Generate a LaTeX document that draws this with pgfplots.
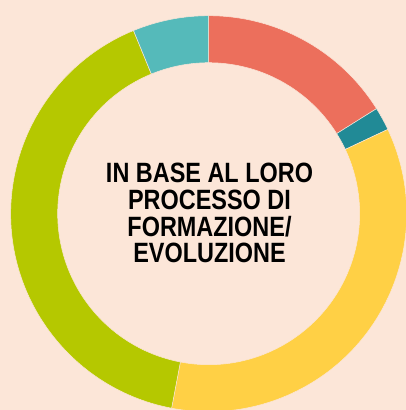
\documentclass[border=0pt]{standalone}
\usepackage{pgfplots}
\pgfplotsset{compat=1.18}
\usepackage{pgfplotstable}
\usepackage{fontspec}
\setmainfont{Liberation Sans}
\definecolor{bg}{HTML}{FCE6D8}
\definecolor{cRed}{HTML}{EC6F5C}
\definecolor{cDTeal}{HTML}{218A96}
\definecolor{cYellow}{HTML}{FFD045}
\definecolor{cGreen}{HTML}{B5C800}
\definecolor{cLTeal}{HTML}{55BABA}
\pgfplotstableread{
label value color
A 16.1 cRed
B 1.9 cDTeal
C 35.0 cYellow
D 40.8 cGreen
E 6.2 cLTeal
}\data
\begin{document}
\begin{tikzpicture}
\def\cum{0}
\pgfplotsforeachungrouped \i in {0,...,4}{%
  \pgfplotstablegetelem{\i}{value}\of{\data}\let\v\pgfplotsretval
  \pgfplotstablegetelem{\i}{color}\of{\data}\let\c\pgfplotsretval
  \pgfmathsetmacro{\s}{90-3.6*\cum}%
  \pgfmathsetmacro{\cum}{\cum+\v}%
  \pgfmathsetmacro{\e}{90-3.6*\cum}%
  \expandafter\xdef\csname segS\i\endcsname{\s}%
  \expandafter\xdef\csname segE\i\endcsname{\e}%
  \expandafter\xdef\csname segC\i\endcsname{\c}%
}
\begin{axis}[
  hide axis,
  x=1pt, y=1pt,
  xmin=-208.7, xmax=197.3,
  ymin=-196.3, ymax=213.7,
  clip=true,
]
\fill[bg] (rel axis cs:0,0) rectangle (rel axis cs:1,1);
\pgfplotsinvokeforeach{0,...,4}{%
  \edef\seg{\noexpand\fill[fill=\csname segC#1\endcsname, draw=bg, line width=0.5pt]
    (axis cs:0,0) ++(\csname segS#1\endcsname:198pt)
    arc[start angle=\csname segS#1\endcsname, end angle=\csname segE#1\endcsname, radius=198pt]
    -- ++(\csname segE#1\endcsname:-47pt)
    arc[start angle=\csname segE#1\endcsname, end angle=\csname segS#1\endcsname, radius=151pt]
    -- cycle;}%
  \seg
}
\node[inner sep=0pt, font=\bfseries\fontsize{27.9}{26.7}\selectfont, align=center, xscale=0.84, transform shape]
  at (axis cs:0.8,0.4) {IN BASE AL LORO\\PROCESSO DI\\FORMAZIONE/\\EVOLUZIONE};
\end{axis}
\end{tikzpicture}
\end{document}
